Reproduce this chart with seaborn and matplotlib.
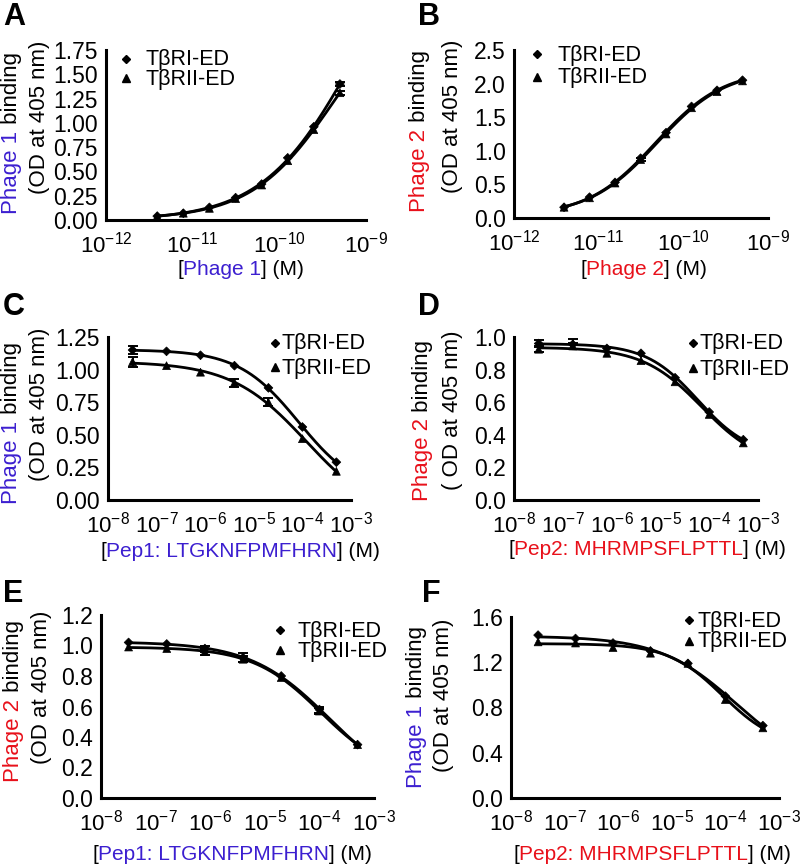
import numpy as np
import pandas as pd
import matplotlib
matplotlib.use("Agg")
import matplotlib.pyplot as plt
import seaborn as sns
from matplotlib.lines import Line2D
from matplotlib.ticker import FixedLocator, NullLocator

# ---------------- data ----------------
series_names = ["TβRI-ED", "TβRII-ED"]

conc_phage = [3.9e-12, 7.8e-12, 1.56e-11, 3.13e-11, 6.25e-11, 1.25e-10, 2.5e-10, 5.0e-10]
conc_pep = [3.2e-8, 1.6e-7, 8.0e-7, 4.0e-6, 2.0e-5, 1.0e-4, 5.0e-4]

phage_xticks = [1e-12, 1e-11, 1e-10, 1e-9]
phage_xticklabels = [r"$\mathregular{10^{-12}}$", r"$\mathregular{10^{-11}}$",
                     r"$\mathregular{10^{-10}}$", r"$\mathregular{10^{-9}}$"]
pep_xticks = [1e-8, 1e-7, 1e-6, 1e-5, 1e-4, 1e-3]
pep_xticklabels = [r"$\mathregular{10^{-8}}$", r"$\mathregular{10^{-7}}$", r"$\mathregular{10^{-6}}$",
                   r"$\mathregular{10^{-5}}$", r"$\mathregular{10^{-4}}$", r"$\mathregular{10^{-3}}$"]

A_ri = [0.04, 0.07, 0.13, 0.23, 0.37, 0.64, 0.96, 1.40]
A_rii = [0.04, 0.07, 0.12, 0.22, 0.36, 0.61, 0.93, 1.31]
A_ri_err = [0, 0, 0, 0, 0, 0, 0, 0.02]
A_rii_err = [0, 0, 0, 0, 0, 0, 0, 0.02]
A_yticks = [0.0, 0.25, 0.5, 0.75, 1.0, 1.25, 1.5, 1.75]
A_yticklabels = ["0.00", "0.25", "0.50", "0.75", "1.00", "1.25", "1.50", "1.75"]

B_ri = [0.16, 0.31, 0.53, 0.89, 1.27, 1.66, 1.90, 2.05]
B_rii = [0.16, 0.30, 0.52, 0.87, 1.25, 1.64, 1.88, 2.04]
B_ri_err = [0, 0, 0, 0, 0, 0, 0, 0]
B_rii_err = [0, 0, 0, 0.02, 0, 0, 0, 0]
B_yticks = [0.0, 0.5, 1.0, 1.5, 2.0, 2.5]
B_yticklabels = ["0.0", "0.5", "1.0", "1.5", "2.0", "2.5"]

C_ri = [1.15, 1.14, 1.11, 1.03, 0.86, 0.56, 0.29]
C_rii = [1.06, 1.03, 0.98, 0.90, 0.75, 0.47, 0.22]
C_ri_err = [0.03, 0, 0, 0, 0, 0, 0]
C_rii_err = [0.04, 0, 0, 0.03, 0.03, 0, 0]
C_yticks = [0.0, 0.25, 0.5, 0.75, 1.0, 1.25]
C_yticklabels = ["0.00", "0.25", "0.50", "0.75", "1.00", "1.25"]

D_ri = [0.96, 0.955, 0.93, 0.90, 0.75, 0.54, 0.37]
D_rii = [0.925, 0.945, 0.90, 0.855, 0.725, 0.525, 0.35]
D_ri_err = [0.02, 0.03, 0, 0, 0, 0, 0]
D_rii_err = [0.02, 0.02, 0, 0, 0, 0, 0]
D_yticks = [0.0, 0.2, 0.4, 0.6, 0.8, 1.0]
D_yticklabels = ["0.0", "0.2", "0.4", "0.6", "0.8", "1.0"]

E_ri = [1.02, 1.01, 0.98, 0.92, 0.80, 0.58, 0.35]
E_rii = [0.99, 0.98, 0.96, 0.91, 0.79, 0.57, 0.35]
E_ri_err = [0, 0, 0.02, 0.03, 0, 0.02, 0]
E_rii_err = [0, 0, 0.02, 0.02, 0, 0.02, 0]
E_yticks = [0.0, 0.2, 0.4, 0.6, 0.8, 1.0, 1.2]
E_yticklabels = ["0.0", "0.2", "0.4", "0.6", "0.8", "1.0", "1.2"]

F_ri = [1.44, 1.41, 1.37, 1.30, 1.19, 0.90, 0.64]
F_rii = [1.38, 1.37, 1.33, 1.28, 1.19, 0.87, 0.62]
F_ri_err = [0, 0, 0, 0, 0, 0, 0]
F_rii_err = [0, 0, 0, 0, 0, 0, 0]
F_yticks = [0.0, 0.4, 0.8, 1.2, 1.6]
F_yticklabels = ["0.0", "0.4", "0.8", "1.2", "1.6"]

BLUE = "#3c1fd0"
RED = "#e8101a"
K = "black"

# ---------------- style ----------------
sns.set_theme(style="white")
plt.rcParams["font.family"] = ["Liberation Sans", "DejaVu Sans"]
plt.rcParams["mathtext.fontset"] = "custom"
plt.rcParams["mathtext.rm"] = "Liberation Sans"
plt.rcParams["mathtext.it"] = "Liberation Sans:italic"
plt.rcParams["mathtext.bf"] = "Liberation Sans:bold"

W, H = 800, 864
fig = plt.figure(figsize=(W / 100, H / 100), dpi=100)
renderer = fig.canvas.get_renderer()
FS = 15
YLFS = 16
YTFS = 16.5
XTFS = 16
LGFS = 15.5


def rect(l, r, t, b):
    return [l / W, 1 - b / H, (r - l) / W, (b - t) / H]


def text_width(s, size=FS):
    t = fig.text(0, 0, s + "|", fontsize=size)
    w1 = t.get_window_extent(renderer).width
    t.set_text("|")
    w2 = t.get_window_extent(renderer).width
    t.remove()
    return w1 - w2


def multicolor(pieces, x, y, rotation=0, size=FS):
    full = "".join(p for p, _ in pieces)
    total = text_width(full, size)
    prefix = ""
    for s, c in pieces:
        off = text_width(prefix, size) if prefix else 0.0
        if rotation == 0:
            px, py = x - total / 2 + off, y
        else:
            px, py = x, y + total / 2 - off
        fig.text(px / W, 1 - py / H, s, color=c, fontsize=size, rotation=rotation,
                 rotation_mode="anchor", ha="left", va="baseline")
        prefix += s


def fit_logistic(lx, y):
    """Least-squares four-parameter logistic fit in log10 concentration."""
    lcs = np.arange(lx.min() - 3, lx.max() + 3, 0.02)
    hs = np.concatenate([np.arange(-3.0, -0.19, 0.02), np.arange(0.2, 3.01, 0.02)])
    LC, HH = np.meshgrid(lcs, hs, indexing="ij")
    g = 1.0 / (1.0 + 10.0 ** ((lx[None, None, :] - LC[..., None]) * HH[..., None]))
    gm = g.mean(-1)
    ym = y.mean()
    gc = g - gm[..., None]
    var = (gc ** 2).sum(-1)
    cov = (gc * (y - ym)).sum(-1)
    ok = var > 1e-10
    d = np.where(ok, cov / np.where(ok, var, 1), 0)
    b = ym - d * gm
    sse = ((b[..., None] + d[..., None] * g - y) ** 2).sum(-1)
    sse = np.where(ok, sse, np.inf)
    i, j = np.unravel_index(np.argmin(sse), sse.shape)
    lc, h, bb, dd = LC[i, j], HH[i, j], b[i, j], d[i, j]
    return lambda t: bb + dd / (1.0 + 10.0 ** ((t - lc) * h))


panels = [
    dict(key="A", box=(106, 366, 50, 220), x=conc_phage, ri=A_ri, rii=A_rii,
         ri_err=A_ri_err, rii_err=A_rii_err, xticks=phage_xticks, xtl=phage_xticklabels,
         yticks=A_yticks, ytl=A_yticklabels,
         yl1=[("Phage 1", BLUE), (" binding", K)], yl1pos=(17, 133),
         yl2=[("(OD at 405 nm)", K)], yl2pos=(45, 117),
         xl=[("[", K), ("Phage 1", BLUE), ("] (M)", K)], xlpos=(241, 275),
         lab=(3, 25), leg=((126, 59), (126, 78), 145)),
    dict(key="B", box=(514, 768, 50, 218), x=conc_phage, ri=B_ri, rii=B_rii,
         ri_err=B_ri_err, rii_err=B_rii_err, xticks=phage_xticks, xtl=phage_xticklabels,
         yticks=B_yticks, ytl=B_yticklabels,
         yl1=[("Phage 2", RED), (" binding", K)], yl1pos=(425, 131),
         yl2=[("(OD at 405 nm)", K)], yl2pos=(458, 116),
         xl=[("[", K), ("Phage 2", RED), ("] (M)", K)], xlpos=(644, 275),
         lab=(418, 25), leg=((537, 54), (537, 77), 557)),
    dict(key="C", box=(108, 351, 337, 500), x=conc_pep, ri=C_ri, rii=C_rii,
         ri_err=C_ri_err, rii_err=C_rii_err, xticks=pep_xticks, xtl=pep_xticklabels,
         yticks=C_yticks, ytl=C_yticklabels,
         yl1=[("Phage 1", BLUE), (" binding", K)], yl1pos=(17, 423),
         yl2=[("(OD at 405 nm)", K)], yl2pos=(45, 404),
         xl=[("[", K), ("Pep1: LTGKNFPMFHRN", BLUE), ("] (M)", K)], xlpos=(240, 557),
         lab=(3, 315), leg=((275, 343), (275, 367), 282)),
    dict(key="D", box=(514, 758, 337, 500), x=conc_pep, ri=D_ri, rii=D_rii,
         ri_err=D_ri_err, rii_err=D_rii_err, xticks=pep_xticks, xtl=pep_xticklabels,
         yticks=D_yticks, ytl=D_yticklabels,
         yl1=[("Phage 2", RED), (" binding", K)], yl1pos=(428, 421),
         yl2=[("( OD at 405 nm)", K)], yl2pos=(458, 410),
         xl=[("[", K), ("Pep2: MHRMPSFLPTTL", RED), ("] (M)", K)], xlpos=(647, 555),
         lab=(418, 315), leg=((693, 343), (693, 368), 700)),
    dict(key="E", box=(101, 374, 615, 798), x=conc_pep, ri=E_ri, rii=E_rii,
         ri_err=E_ri_err, rii_err=E_rii_err, xticks=pep_xticks, xtl=pep_xticklabels,
         yticks=E_yticks, ytl=E_yticklabels,
         yl1=[("Phage 2", RED), (" binding", K)], yl1pos=(19, 701),
         yl2=[("(OD at 405 nm)", K)], yl2pos=(47, 687),
         xl=[("[", K), ("Pep1: LTGKNFPMFHRN", BLUE), ("] (M)", K)], xlpos=(232, 860),
         lab=(3, 602), leg=((280, 630), (280, 650), 297)),
    dict(key="F", box=(511, 779, 617, 798), x=conc_pep, ri=F_ri, rii=F_rii,
         ri_err=F_ri_err, rii_err=F_rii_err, xticks=pep_xticks, xtl=pep_xticklabels,
         yticks=F_yticks, ytl=F_yticklabels,
         yl1=[("Phage 1", BLUE), (" binding", K)], yl1pos=(422, 707),
         yl2=[("(OD at 405 nm)", K)], yl2pos=(449, 695),
         xl=[("[", K), ("Pep2: MHRMPSFLPTTL", RED), ("] (M)", K)], xlpos=(652, 860),
         lab=(422, 602), leg=((689, 620), (689, 641), 697)),
]

markers = {"TβRI-ED": "D", "TβRII-ED": "^"}
msizes = {"TβRI-ED": 20, "TβRII-ED": 32}

for p in panels:
    ax = fig.add_axes(rect(*p["box"]))
    ax.set_facecolor("none")
    df = pd.DataFrame({
        "conc": list(p["x"]) * 2,
        "od": list(p["ri"]) + list(p["rii"]),
        "err": list(p["ri_err"]) + list(p["rii_err"]),
        "series": [series_names[0]] * len(p["x"]) + [series_names[1]] * len(p["x"]),
    })
    ax.set_xscale("log")
    for name in series_names:
        sub = df[df["series"] == name]
        lx = np.log10(sub["conc"].to_numpy())
        model = fit_logistic(lx, sub["od"].to_numpy())
        xs = np.linspace(lx.min(), lx.max(), 200)
        sns.lineplot(x=10 ** xs, y=model(xs), ax=ax, color="black",
                     lw=2.0, sort=False, estimator=None, legend=False)
        e = sub[sub["err"] > 0]
        if len(e):
            ax.errorbar(e["conc"], e["od"], yerr=e["err"], fmt="none", ecolor="black",
                        elinewidth=1.4, capsize=3.5, capthick=1.4)
    sns.scatterplot(data=df, x="conc", y="od", style="series", markers=markers,
                    size="series", sizes=msizes, color="black", edgecolor="black",
                    linewidth=0.5, ax=ax, legend=False, zorder=5)
    ax.set_xlim(p["xticks"][0], p["xticks"][-1])
    ax.set_ylim(p["yticks"][0], p["yticks"][-1])
    ax.xaxis.set_major_locator(FixedLocator(p["xticks"]))
    ax.xaxis.set_minor_locator(NullLocator())
    ax.set_xticklabels(p["xtl"])
    ax.set_yticks(p["yticks"])
    ax.set_yticklabels(p["ytl"])
    ax.set_xlabel("")
    ax.set_ylabel("")
    for s in ["top", "right"]:
        ax.spines[s].set_visible(False)
    for s in ["left", "bottom"]:
        ax.spines[s].set_linewidth(2.2)
        ax.spines[s].set_color("black")
    ax.tick_params(axis="both", direction="in", length=4.5, width=1.5, color="black",
                   labelcolor="black")
    ax.tick_params(axis="x", pad=8, labelsize=XTFS)
    ax.tick_params(axis="y", pad=6, labelsize=YTFS)

    multicolor(p["yl1"], *p["yl1pos"], rotation=90, size=YLFS)
    multicolor(p["yl2"], *p["yl2pos"], rotation=90, size=YLFS)
    multicolor(p["xl"], *p["xlpos"])
    fig.text(p["lab"][0] / W, 1 - p["lab"][1] / H, p["key"], fontsize=22,
             fontweight="bold", ha="left", va="baseline", color="black")
    (m1x, m1y), (m2x, m2y), tx = p["leg"]
    fig.add_artist(Line2D([m1x / W], [1 - m1y / H], marker="D", markersize=4.2,
                          color="black", transform=fig.transFigure, linestyle="none"))
    fig.add_artist(Line2D([m2x / W], [1 - m2y / H], marker="^", markersize=5.2,
                          color="black", transform=fig.transFigure, linestyle="none"))
    fig.text(tx / W, 1 - (m1y + 6.5) / H, series_names[0], fontsize=LGFS, ha="left",
             va="baseline", color="black")
    fig.text(tx / W, 1 - (m2y + 6.5) / H, series_names[1], fontsize=LGFS, ha="left",
             va="baseline", color="black")

fig.savefig("out.png", dpi=100, facecolor="white")
